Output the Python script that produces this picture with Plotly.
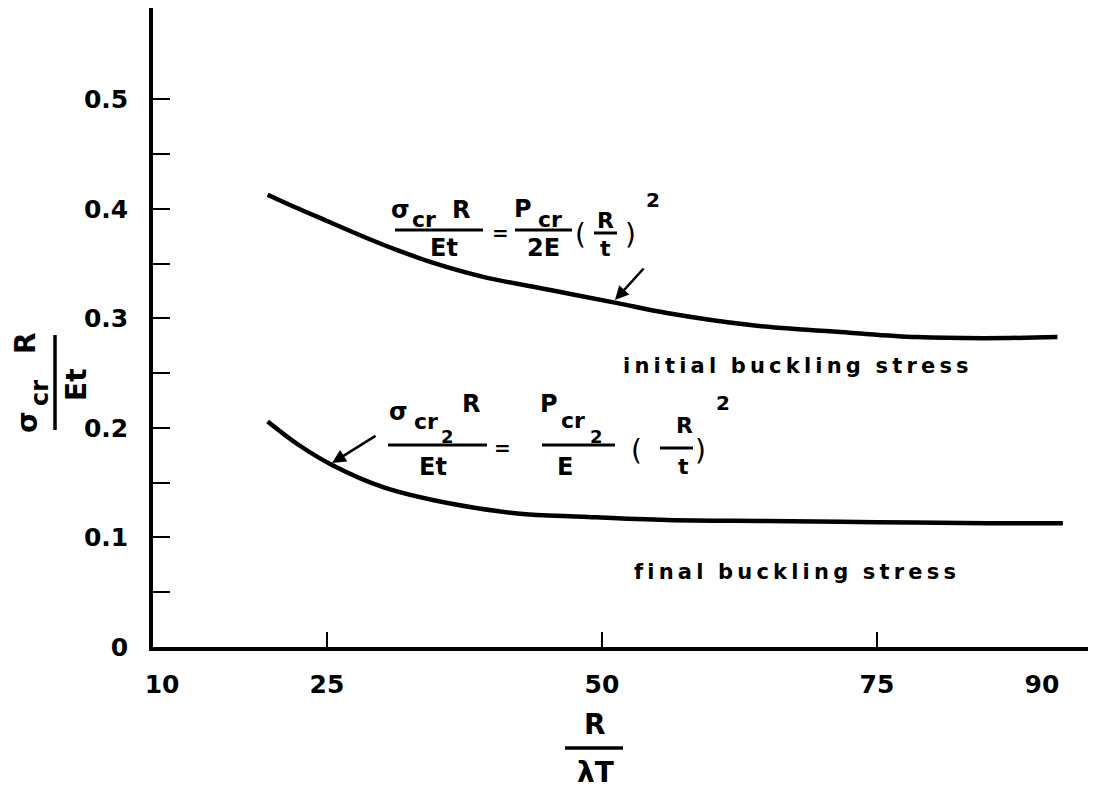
import plotly.graph_objects as go

# ---- data ----
x_initial = [19.6, 22.0, 25.0, 28.6, 31.5, 34.6, 39.2, 45.3, 51.4, 55.9, 63.5, 72.5, 78.6, 84.6, 91.4]
y_initial = [0.413, 0.402, 0.389, 0.3735, 0.362, 0.351, 0.338, 0.326, 0.314, 0.305, 0.294, 0.287, 0.283, 0.282, 0.283]

x_final = [19.6, 22.5, 25.5, 30.1, 36.2, 42.3, 48.3, 55.9, 65.0, 75.0, 85.0, 91.9]
y_final = [0.206, 0.184, 0.166, 0.146, 0.131, 0.122, 0.119, 0.116, 0.115, 0.114, 0.113, 0.113]

x_label_vals = [10, 25, 50, 75, 90]
x_label_text = ["10", "25", "50", "75", "90"]
x_tick_vals = [25, 50, 75]
y_label_vals = [0, 0.1, 0.2, 0.3, 0.4, 0.5]
y_label_text = ["0", "0.1", "0.2", "0.3", "0.4", "0.5"]
y_minor_vals = [0.05, 0.15, 0.25, 0.35, 0.45]

X_RANGE = [9.18, 94.91]
Y_RANGE = [0, 0.5835]

# page places the figure div at (8, 8) because of the default body margin
OFF = 8
PLOT_L, PLOT_R, PLOT_T, PLOT_B = 153, 1096, 8, 647   # plot area in page pixels
W, H = 1096 - OFF, 791 - OFF
L, R, T, B = PLOT_L - OFF, 0, PLOT_T - OFF, H - (PLOT_B - OFF)
FONT = "DejaVu Sans"
BLACK = "black"
WEIGHT = "bold"
THIN = "\u2009"

def spaced(word):
    return THIN.join(word)

def pp(xp, yp):
    """page pixel -> paper coordinates"""
    return (xp - PLOT_L) / (PLOT_R - PLOT_L), (PLOT_B - yp) / (PLOT_B - PLOT_T)

fig = go.Figure()
fig.add_trace(go.Scatter(x=x_initial, y=y_initial, mode="lines",
                         line=dict(color=BLACK, width=4.5, shape="spline", smoothing=1.0),
                         xaxis="x", yaxis="y", showlegend=False, hoverinfo="skip"))
fig.add_trace(go.Scatter(x=x_final, y=y_final, mode="lines",
                         line=dict(color=BLACK, width=4.5, shape="spline", smoothing=1.0),
                         xaxis="x2", yaxis="y", showlegend=False, hoverinfo="skip"))

annotations = []
shapes = []

def txt(s, xp, yp, size=24, angle=0, weight=WEIGHT):
    x, y = pp(xp, yp)
    annotations.append(dict(text=s, x=x, y=y, xref="paper", yref="paper", showarrow=False,
                            xanchor="center", yanchor="middle", textangle=angle,
                            font=dict(family=FONT, size=size, color=BLACK, weight=weight)))

def bar(x0, x1, y0, y1, w=3):
    a = pp(x0, y0); b = pp(x1, y1)
    shapes.append(dict(type="line", xref="paper", yref="paper", x0=a[0], y0=a[1], x1=b[0], y1=b[1],
                       line=dict(color=BLACK, width=w)))

def arrow(hx, hy, tx, ty):
    x, y = pp(hx, hy)
    annotations.append(dict(text="", x=x, y=y, xref="paper", yref="paper", showarrow=True,
                            ax=tx - hx, ay=ty - hy, arrowhead=2, arrowsize=1.1, arrowwidth=2.5,
                            arrowcolor=BLACK))

# y-axis title (rotated fraction)
txt("σ", 27, 422, size=28, angle=-90)
txt("cr", 40, 393, size=24, angle=-90)
txt("R", 25, 343, size=28, angle=-90)
bar(55, 55, 335, 430, w=3.5)
txt("Et", 76, 385, size=28, angle=-90)

# x-axis title
txt("R", 595, 724, size=28)
bar(565, 623, 748, 748, w=3.5)
txt("λT", 595, 772, size=28)

# upper formula
txt("σ", 400, 210, size=24)
txt("cr", 424, 219, size=22)
txt("R", 461, 210, size=24)
bar(395, 483, 230, 230)
txt("Et", 444, 248, size=24)
txt("=", 500, 233, size=20)
txt("P", 523, 209, size=24)
txt("cr", 550, 219, size=22)
bar(515, 572, 230, 230)
txt("2E", 543, 248, size=24)
txt("(", 580, 234, size=28, weight="normal")
txt("R", 605, 220, size=22)
bar(594, 617, 233, 233)
txt("t", 605, 248, size=22)
txt(")", 630, 234, size=28, weight="normal")
txt("2", 653, 200, size=20)
arrow(615, 300, 645, 267)

# lower formula
txt("σ", 398, 412, size=24)
txt("cr", 426, 421, size=22)
txt("2", 447, 436, size=18)
txt("R", 471, 404, size=24)
bar(388, 487, 445, 445)
txt("Et", 433, 467, size=24)
txt("=", 502, 448, size=20)
txt("P", 549, 404, size=24)
txt("cr", 573, 420, size=22)
txt("2", 596, 436, size=18)
bar(542, 615, 445, 445)
txt("E", 565, 467, size=24)
txt("(", 636, 450, size=28, weight="normal")
txt("R", 684, 425, size=22)
bar(660, 693, 448, 448)
txt("t", 683, 467, size=22)
txt(")", 700, 450, size=28, weight="normal")
txt("2", 723, 403, size=20)
arrow(332, 463, 377, 435)

# curve labels
sep = "\u00a0\u00a0"
txt(sep.join(spaced(w) for w in ["initial", "buckling", "stress"]), 796, 366, size=21)
txt(sep.join(spaced(w) for w in ["final", "buckling", "stress"]), 795, 572, size=21)

axis_common = dict(showgrid=False, zeroline=False, color=BLACK)
tickfont = dict(family=FONT, size=25, color=BLACK, weight=WEIGHT)

fig.update_layout(
    width=W, height=H,
    margin=dict(l=L, r=R, t=T, b=B, pad=0),
    paper_bgcolor="white", plot_bgcolor="white",
    font=dict(family=FONT, color=BLACK),
    xaxis=dict(range=X_RANGE, showline=True, linecolor=BLACK, linewidth=3.5,
               tickmode="array", tickvals=x_label_vals, ticktext=x_label_text, ticks="",
               tickfont=tickfont, ticklabelstandoff=12, **axis_common),
    xaxis2=dict(range=X_RANGE, overlaying="x", side="bottom", showline=False,
                tickmode="array", tickvals=x_tick_vals, ticks="inside", ticklen=15, tickwidth=2,
                tickcolor=BLACK, showticklabels=False, **axis_common),
    yaxis=dict(range=Y_RANGE, showline=True, linecolor=BLACK, linewidth=3.5,
               tickmode="array", tickvals=y_label_vals, ticktext=y_label_text,
               ticks="inside", ticklen=17, tickwidth=2, tickcolor=BLACK,
               minor=dict(tickmode="array", tickvals=y_minor_vals,
                          ticks="inside", ticklen=17, tickwidth=2, tickcolor=BLACK, showgrid=False),
               tickfont=tickfont, ticklabelstandoff=16, **axis_common),
    annotations=annotations,
    shapes=shapes,
)

fig.write_html("out.html")
